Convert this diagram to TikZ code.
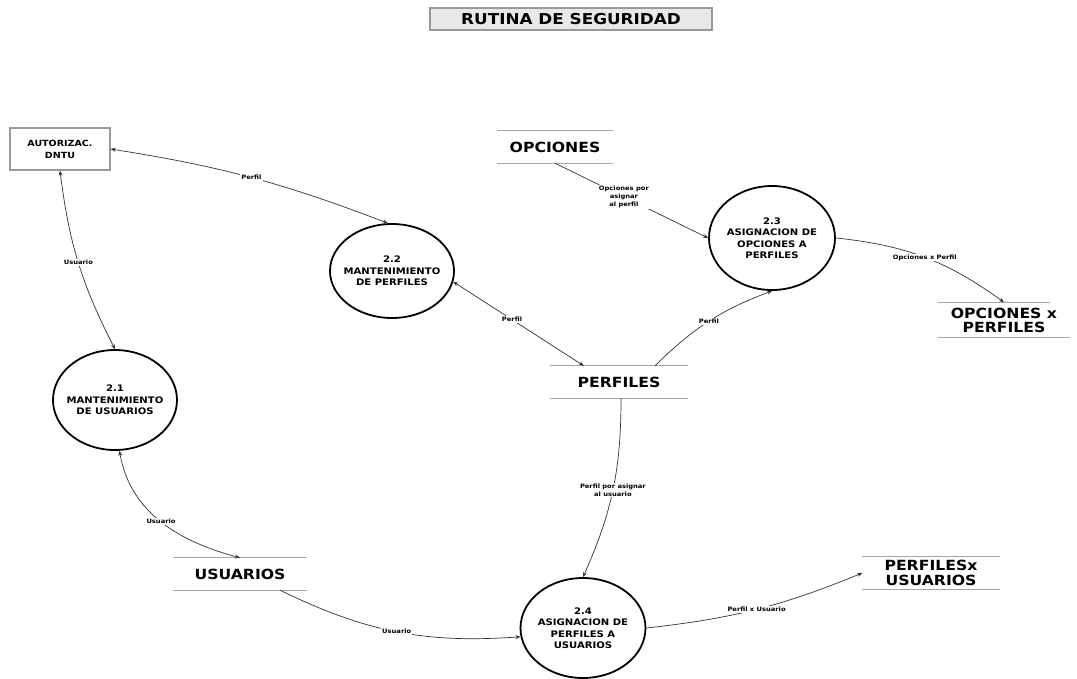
\documentclass[tikz,border=0pt]{standalone}
\usepackage{fontspec}
\setmainfont{DejaVu Sans}
\newfontfamily\wf{DejaVu Sans}[FakeStretch=1.12]
\usetikzlibrary{shapes.geometric,arrows.meta,calc}
\begin{document}
\begin{tikzpicture}[x=1pt,y=-1pt,
 proc/.style={ellipse,draw,line width=1.8pt,minimum width=124pt,minimum height=100pt,inner xsep=-14pt,inner ysep=0pt,align=center,font=\wf\bfseries\fontsize{9}{11.5}\selectfont},
 store/.style={minimum width=#1,minimum height=32pt,inner sep=0pt,align=center,font=\wf\bfseries\fontsize{14}{14}\selectfont},
 storeline/.style={draw=gray!70,line width=1.3pt},
 flow/.style={draw=black!80,line width=0.7pt,-{Stealth[length=5pt,width=4pt]}},
 flowb/.style={draw=black!80,line width=0.7pt,{Stealth[length=5pt,width=4pt]}-{Stealth[length=5pt,width=4pt]}},
 lbl/.style={fill=white,inner sep=1pt,font=\wf\bfseries\fontsize{6}{8}\selectfont,align=center}
]
\useasboundingbox (0,0) rectangle (1077,678);
\fill[white] (0,0) rectangle (1077,678);

% title
\node[draw=gray!80,fill=gray!18,line width=1.5pt,minimum width=282pt,minimum height=22pt,inner sep=0pt,font=\wf\bfseries\fontsize{15}{16}\selectfont] (title) at (571,19) {RUTINA DE SEGURIDAD};

% external entity
\node[draw=gray!80,line width=1.2pt,minimum width=100pt,minimum height=42pt,inner sep=0pt,align=center,font=\wf\bfseries\fontsize{8.5}{12}\selectfont] (auto) at (60,149) {AUTORIZAC.\\DNTU};

% processes
\node[proc,minimum height=94pt] (c22) at (392,271) {2.2\\MANTENIMIENTO\\DE PERFILES};
\node[proc,minimum width=126pt,minimum height=104pt] (c23) at (772,238) {2.3\\ASIGNACION DE\\OPCIONES A\\PERFILES};
\node[proc] (c21) at (115,400) {2.1\\MANTENIMIENTO\\DE USUARIOS};
\node[proc,minimum width=125pt] (c24) at (583,628) {2.4\\ASIGNACION DE\\PERFILES A\\USUARIOS};

% data stores
\node[store=115pt] (opc) at (555,147) {OPCIONES};
\draw[storeline] (opc.north west) -- (opc.north east);
\draw[storeline] (opc.south west) -- (opc.south east);

\node[store=138pt] (perf) at (619,382) {PERFILES};
\draw[storeline] (perf.north west) -- (perf.north east);
\draw[storeline] (perf.south west) -- (perf.south east);

\node[store=134pt] (usu) at (240,574) {USUARIOS};
\draw[storeline] (usu.north west) -- (usu.north east);
\draw[storeline] (usu.south west) -- (usu.south east);

\node[store=132pt,minimum height=35pt,font=\wf\bfseries\fontsize{14}{14}\selectfont] (opxp) at (1004,320) {OPCIONES x\\PERFILES};
\draw[storeline] (opxp.north west) -- ([xshift=-20pt]opxp.north east);
\draw[storeline] (opxp.south west) -- (opxp.south east);

\node[store=137pt,minimum height=33pt,font=\wf\bfseries\fontsize{14}{15}\selectfont] (pfus) at (931,573) {PERFILESx\\USUARIOS};
\draw[storeline] (pfus.north west) -- (pfus.north east);
\draw[storeline] (pfus.south west) -- (pfus.south east);

% flows
\draw[flowb] (auto.east) to[bend left=6] node[lbl,pos=0.5] {Perfil} (c22.95);
\draw[flowb] (auto.south) to[bend right=10] node[lbl,pos=0.5] {Usuario} (c21.north);
\draw[flowb] (c21.275) to[out=-80,in=165] node[lbl,pos=0.5] {Usuario} (usu.north);
\draw[flow] ([xshift=40pt]usu.south) to[bend right=15] node[lbl,pos=0.5] {Usuario} (c24.188);
\draw[flow] (c24.east) to[bend right=8] node[lbl,pos=0.5] {Perfil x Usuario} (pfus.west);
\draw[flow] ([xshift=2pt]perf.south) to[bend left=12] node[lbl,pos=0.5] {Perfil por asignar\\al usuario} (c24.north);
\draw[flow] ([xshift=36pt]perf.north) to[bend left=12] node[lbl,pos=0.5] {Perfil} (c23.south);
\draw[flowb] (c22.-10) -- node[lbl,pos=0.45] {Perfil} ([xshift=34pt]perf.north west);
\draw[flow] (opc.south) -- node[lbl,pos=0.45] {Opciones por\\asignar\\al perfil} (c23.west);
\draw[flow] (c23.east) to[bend left=15] node[lbl,pos=0.5] {Opciones x Perfil} (opxp.north);
\end{tikzpicture}
\end{document}
